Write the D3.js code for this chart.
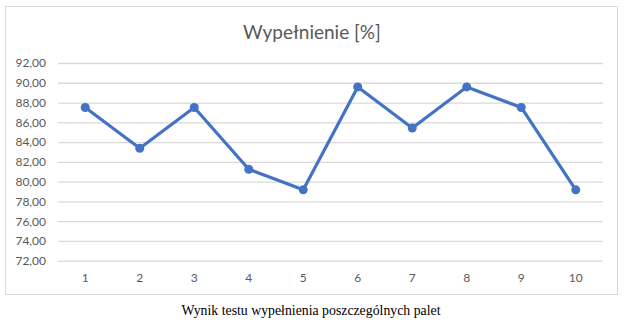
<!DOCTYPE html>
<html><head><meta charset="utf-8">
<script src="https://cdn.jsdelivr.net/npm/d3@7"></script>
<style>body{margin:0;background:#fff}svg{display:block}</style>
</head><body><svg id="c" width="624" height="322"></svg>
<script>
const categories = ["1","2","3","4","5","6","7","8","9","10"];
const values = [87.5, 83.37, 87.5, 81.25, 79.17, 89.58, 85.42, 89.58, 87.5, 79.17];
const yTicks = [72, 74, 76, 78, 80, 82, 84, 86, 88, 90, 92];
const title = "Wypełnienie [%]";
const caption = "Wynik testu wypełnienia poszczególnych palet";

const svg = d3.select("#c");
svg.append("rect").attr("x",5.5).attr("y",6.5).attr("width",612).attr("height",288)
  .attr("fill","#fff").attr("stroke","#d9d9d9").attr("stroke-width",1);

const x = d3.scaleBand().domain(categories).range([58,603]);
const y = d3.scaleLinear().domain([72,92]).range([260.7,63]);
const fmt = v => v.toFixed(2).replace(".", ",");

const yAxis = svg.append("g").attr("transform","translate(58,0)")
  .call(d3.axisLeft(y).tickValues(yTicks).tickFormat(fmt).tickSize(-545).tickPadding(12));
yAxis.select(".domain").remove();
yAxis.selectAll(".tick line").attr("stroke","#d9d9d9").attr("stroke-width",1.3);
yAxis.selectAll(".tick text").attr("fill","#595959").attr("font-family","Lato, 'Open Sans', sans-serif").attr("font-size","12px");

const xAxis = svg.append("g").attr("transform","translate(0,260.7)")
  .call(d3.axisBottom(x).tickSize(0).tickPadding(13));
xAxis.select(".domain").remove();
xAxis.selectAll(".tick text").attr("fill","#595959").attr("font-family","Lato, 'Open Sans', sans-serif").attr("font-size","12px");

const cx = d => x(d) + x.bandwidth()/2;
const line = d3.line().x((d,i)=>cx(categories[i])).y(d=>y(d));
svg.append("path").datum(values).attr("d",line).attr("fill","none")
  .attr("stroke","#4472c4").attr("stroke-width",3.2).attr("stroke-linejoin","round");
svg.selectAll("circle.pt").data(values).join("circle").attr("class","pt")
  .attr("cx",(d,i)=>cx(categories[i])).attr("cy",d=>y(d)).attr("r",4.5).attr("fill","#4472c4");

svg.append("text").attr("x",312).attr("y",39).attr("text-anchor","middle")
  .attr("fill","#595959").attr("font-family","Lato, 'Open Sans', sans-serif").attr("font-size","19px").text(title);
svg.append("text").attr("x",311).attr("y",314.5).attr("text-anchor","middle")
  .attr("fill","#000").attr("font-family","'Liberation Serif', 'Times New Roman', serif").attr("font-size","13.8px").text(caption);
</script></body></html>
